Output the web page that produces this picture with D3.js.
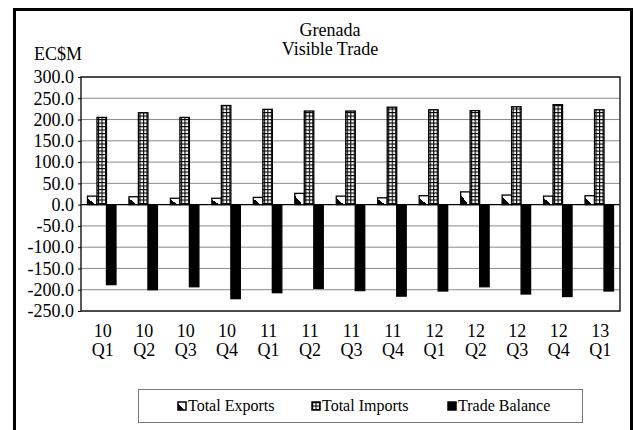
<!DOCTYPE html>
<html>
<head>
<meta charset="utf-8">
<script src="https://cdn.jsdelivr.net/npm/d3@7"></script>
<style>
  body { margin: 0; background: #fff; }
  svg text { font-family: "Liberation Serif", "Times New Roman", serif; fill: #000; }
</style>
</head>
<body>
<div id="chart"></div>
<script>
// quarters (year + quarter)
let quarters = ["10 Q1","10 Q2","10 Q3","10 Q4","11 Q1","11 Q2","11 Q3","11 Q4",
                "12 Q1","12 Q2","12 Q3","12 Q4","13 Q1"];
let exportsVals = [20, 18.6, 15, 15, 17, 26.5, 20, 16, 21, 30, 22.5, 20, 21];
let importsVals = [205, 216, 205, 233, 224, 220, 220, 229, 223, 221, 230, 235, 223];
let balanceVals = [-188, -200, -193, -221, -207, -197, -202, -215, -203, -193, -210, -216, -203];
let seriesNames = ["Total Exports", "Total Imports", "Trade Balance"];
let yTicks = [-250, -200, -150, -100, -50, 0, 50, 100, 150, 200, 250, 300];

let larg = 634;
let alt = 430;

let svg = d3.select("#chart")
            .append("svg")
            .attr("width", larg)
            .attr("height", alt);

let defs = svg.append("defs");

// exports: diagonal half fill
let grad = defs.append("linearGradient")
            .attr("id", "diag")
            .attr("x1", 0).attr("y1", 1)
            .attr("x2", 1).attr("y2", 0);
grad.append("stop").attr("offset", "0%").attr("stop-color", "#000");
grad.append("stop").attr("offset", "40%").attr("stop-color", "#000");
grad.append("stop").attr("offset", "40%").attr("stop-color", "#fff");
grad.append("stop").attr("offset", "100%").attr("stop-color", "#fff");

// imports: small grid
let pat = defs.append("pattern")
            .attr("id", "grid")
            .attr("patternUnits", "userSpaceOnUse")
            .attr("width", 3.5)
            .attr("height", 3.5);
pat.append("rect").attr("width", 3.5).attr("height", 3.5).attr("fill", "#fff");
pat.append("rect").attr("width", 3.5).attr("height", 1.1).attr("fill", "#000");
pat.append("rect").attr("width", 1.1).attr("height", 3.5).attr("fill", "#000");

let fills = ["url(#diag)", "url(#grid)", "#000"];

// outer frame
svg.append("rect")
    .attr("x", 14.5).attr("y", 9.5)
    .attr("width", 617).attr("height", 430)
    .attr("fill", "none")
    .attr("stroke", "#000")
    .attr("stroke-width", 3);

let pLeft = 81, pRight = 620, pTop = 77, pBottom = 311;

let y = d3.scaleLinear()
            .domain([-250, 300])
            .range([pBottom, pTop]);

let x = d3.scaleBand()
            .domain(quarters)
            .range([pLeft, pRight])
            .paddingInner(0.313)
            .paddingOuter(0.1565);

let xs = d3.scaleBand()
            .domain(seriesNames)
            .range([0, x.bandwidth()]);

// gridlines
svg.append("g")
    .selectAll("line")
    .data(yTicks.filter(d => d !== 0))
    .enter()
        .append("line")
        .attr("x1", pLeft).attr("x2", pRight)
        .attr("y1", d => y(d)).attr("y2", d => y(d))
        .attr("stroke", "#8a8a8a")
        .attr("stroke-width", 1);

// bars
let rows = quarters.map((q, i) => ({
    q: q,
    vals: [exportsVals[i], importsVals[i], balanceVals[i]]
}));

let groups = svg.selectAll(".grp")
            .data(rows)
            .enter()
            .append("g")
            .attr("class", "grp")
            .attr("transform", d => "translate(" + x(d.q) + ",0)");

groups.selectAll("rect")
    .data(d => d.vals.map((v, k) => ({k: k, v: v})))
    .enter()
        .append("rect")
        .attr("x", d => xs(seriesNames[d.k]))
        .attr("width", xs.bandwidth())
        .attr("y", d => y(Math.max(0, d.v)))
        .attr("height", d => Math.abs(y(d.v) - y(0)))
        .attr("fill", d => fills[d.k])
        .attr("stroke", "#000")
        .attr("stroke-width", 1.3);

// zero line
svg.append("line")
    .attr("x1", pLeft).attr("x2", pRight)
    .attr("y1", y(0)).attr("y2", y(0))
    .attr("stroke", "#000")
    .attr("stroke-width", 1.2);

// plot border
svg.append("rect")
    .attr("x", pLeft).attr("y", pTop)
    .attr("width", pRight - pLeft).attr("height", pBottom - pTop)
    .attr("fill", "none")
    .attr("stroke", "#222")
    .attr("stroke-width", 1.5);

// y axis
let eixoY = d3.axisLeft(y)
            .tickValues(yTicks)
            .tickSize(3)
            .tickPadding(4)
            .tickFormat(d => d.toFixed(1));

svg.append("g")
    .attr("transform", "translate(" + pLeft + ",0)")
    .call(eixoY)
    .call(g => g.select(".domain").remove())
    .call(g => g.selectAll("text")
                .style("font-family", "Liberation Serif")
                .style("font-size", "18px"));

// x labels (two lines)
let xl = svg.append("g")
            .selectAll("text")
            .data(quarters)
            .enter()
            .append("text")
            .attr("text-anchor", "middle")
            .attr("x", d => x(d) + x.bandwidth() / 2 + 1)
            .attr("y", 337)
            .style("font-size", "18px");
xl.append("tspan").text(d => d.split(" ")[0]);
xl.append("tspan")
    .attr("x", d => x(d) + x.bandwidth() / 2 + 1)
    .attr("dy", 18.5)
    .text(d => d.split(" ")[1]);

// titles
svg.append("text")
    .attr("x", 330).attr("y", 36)
    .attr("text-anchor", "middle")
    .style("font-size", "18px")
    .text("Grenada");
svg.append("text")
    .attr("x", 330).attr("y", 55)
    .attr("text-anchor", "middle")
    .style("font-size", "18px")
    .text("Visible Trade");
svg.append("text")
    .attr("x", 34).attr("y", 60)
    .style("font-size", "18px")
    .text("EC$M");

// legend
svg.append("rect")
    .attr("x", 138.5).attr("y", 389.5)
    .attr("width", 444).attr("height", 33)
    .attr("fill", "#fff")
    .attr("stroke", "#777")
    .attr("stroke-width", 1);

let legX = [178, 312, 448];
let leg = svg.selectAll(".leg")
            .data(seriesNames)
            .enter()
            .append("g")
            .attr("class", "leg")
            .attr("transform", (d, i) => "translate(" + legX[i] + ",402)");
leg.append("rect")
    .attr("width", 8).attr("height", 8)
    .attr("fill", (d, i) => fills[i])
    .attr("stroke", "#000")
    .attr("stroke-width", 1.5);
leg.append("text")
    .attr("x", 10).attr("y", 9)
    .style("font-size", "16px")
    .text(d => d);
</script>
</body>
</html>
